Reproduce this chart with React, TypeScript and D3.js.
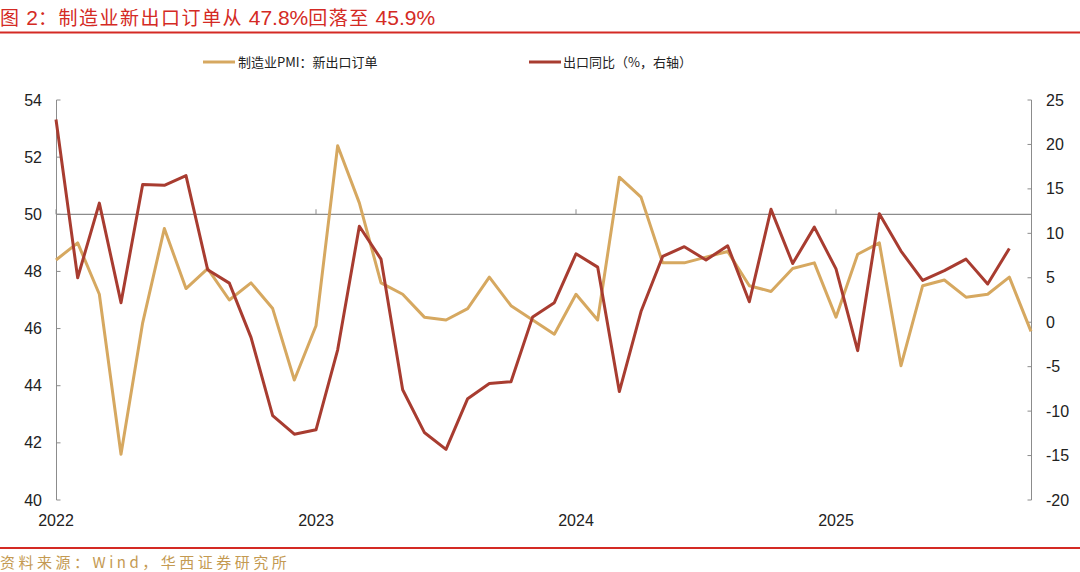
import * as d3 from 'd3';

const years = ['2022', '2023', '2024', '2025'];

// 制造业PMI：新出口订单, 2022-01 .. 2025-10
const pmiExport = [
    48.4, 49.0, 47.2, 41.6, 46.2, 49.5, 47.4, 48.1, 47.0, 47.6, 46.7, 44.2,
    46.1, 52.4, 50.4, 47.6, 47.2, 46.4, 46.3, 46.7, 47.8, 46.8, 46.3, 45.8,
    47.2, 46.3, 51.3, 50.6, 48.3, 48.3, 48.5, 48.7, 47.5, 47.3, 48.1, 48.3,
    46.4, 48.6, 49.0, 44.7, 47.5, 47.7, 47.1, 47.2, 47.8, 45.9,
];

// 出口同比（%，右轴）, 2022-01 .. 2025-09
const exportYoY = [
    22.8, 5.0, 13.4, 2.2, 15.5, 15.4, 16.5, 5.9, 4.4, -1.7, -10.5, -12.6,
    -12.1, -3.1, 10.8, 7.1, -7.6, -12.4, -14.3, -8.6, -6.9, -6.7, 0.6, 2.2,
    7.7, 6.2, -7.8, 1.2, 7.4, 8.5, 7.0, 8.6, 2.3, 12.7, 6.6, 10.7,
    6.0, -3.2, 12.2, 8.0, 4.7, 5.8, 7.1, 4.3, 8.3,
];

const leftTicks = [40, 42, 44, 46, 48, 50, 52, 54];
const rightTicks = [-20, -15, -10, -5, 0, 5, 10, 15, 20, 25];

const W = 1080;
const H = 572;
const GOLD = '#d6a860';
const RED = '#a83c30';
const AXIS = '#8c8c8c';
const NUM_FONT = '"Liberation Sans", Arial, sans-serif';
const CJK_FONT = '"Noto Sans CJK SC", "Liberation Sans", sans-serif';

export default function App() {
    const x = d3.scaleLinear().domain([0, 45]).range([56, 1031]);
    const yL = d3.scaleLinear().domain([40, 54]).range([500, 100]);
    const yR = d3.scaleLinear().domain([-20, 25]).range([500, 100]);

    const pmiLine = d3
        .line<number>()
        .x((_, i) => x(i))
        .y((d) => yL(d));
    const expLine = d3
        .line<number>()
        .x((_, i) => x(i))
        .y((d) => yR(d));

    const baseY = yL(50);

    return (
        <div style={{ position: 'absolute', left: 0, top: 0 }}>
            <svg width={W} height={H} viewBox={`0 0 ${W} ${H}`} style={{ display: 'block', background: '#fff' }}>
                {/* title */}
                <text x={0} y={25} fill="#d42a24" fontFamily={CJK_FONT} fontSize={19} letterSpacing={1.5}>
                    图 <tspan fontFamily={NUM_FONT} fontSize={21} letterSpacing={0}>2</tspan>：制造业新出口订单从{' '}
                    <tspan fontFamily={NUM_FONT} fontSize={21} letterSpacing={0}>47.8%</tspan>回落至{' '}
                    <tspan fontFamily={NUM_FONT} fontSize={21} letterSpacing={0}>45.9%</tspan>
                </text>
                <line x1={0} x2={W} y1={32.5} y2={32.5} stroke="#d42a24" strokeWidth={2} />

                {/* legend */}
                <line x1={203} x2={235} y1={62} y2={62} stroke={GOLD} strokeWidth={3} />
                <text x={238} y={67} fontFamily={CJK_FONT} fontSize={13} fill="#222">
                    制造业PMI：新出口订单
                </text>
                <line x1={529} x2={561} y1={62} y2={62} stroke={RED} strokeWidth={3} />
                <text x={563} y={67} fontFamily={CJK_FONT} fontSize={13} fill="#222">
                    出口同比（%，右轴）
                </text>

                {/* left axis */}
                <line x1={56.5} x2={56.5} y1={yL(54)} y2={yL(40)} stroke={AXIS} strokeWidth={1} />
                {leftTicks.map((t) => (
                    <g key={`l${t}`}>
                        <line x1={56.5} x2={60.5} y1={yL(t)} y2={yL(t)} stroke={AXIS} />
                        <text
                            x={42}
                            y={yL(t)}
                            dy="0.35em"
                            textAnchor="end"
                            fontFamily={NUM_FONT}
                            fontSize={16}
                            fill="#222"
                        >
                            {t}
                        </text>
                    </g>
                ))}

                {/* right axis */}
                <line x1={1031.5} x2={1031.5} y1={yR(25)} y2={yR(-20)} stroke={AXIS} strokeWidth={1} />
                {rightTicks.map((t) => (
                    <g key={`r${t}`}>
                        <line x1={1027.5} x2={1031.5} y1={yR(t)} y2={yR(t)} stroke={AXIS} />
                        <text
                            x={1046}
                            y={yR(t)}
                            dy="0.35em"
                            textAnchor="start"
                            fontFamily={NUM_FONT}
                            fontSize={16}
                            fill="#222"
                        >
                            {t}
                        </text>
                    </g>
                ))}

                {/* category axis at 50 */}
                <line x1={56} x2={1031} y1={baseY} y2={baseY} stroke={AXIS} strokeWidth={1.2} />
                {years.map((yr, i) => (
                    <g key={yr}>
                        <line x1={x(i * 12)} x2={x(i * 12)} y1={baseY} y2={baseY - 5} stroke={AXIS} />
                        <text
                            x={x(i * 12)}
                            y={526}
                            textAnchor="middle"
                            fontFamily={NUM_FONT}
                            fontSize={16}
                            fill="#222"
                        >
                            {yr}
                        </text>
                    </g>
                ))}

                {/* series */}
                <path d={pmiLine(pmiExport) ?? ''} fill="none" stroke={GOLD} strokeWidth={3} strokeLinejoin="round" />
                <path d={expLine(exportYoY) ?? ''} fill="none" stroke={RED} strokeWidth={3} strokeLinejoin="round" />

                {/* footer */}
                <line x1={0} x2={W} y1={548} y2={548} stroke="#d42a24" strokeWidth={2} />
                <text x={0} y={568} fill="#c49a52" fontFamily={CJK_FONT} fontSize={15} letterSpacing={3.5}>
                    资料来源：Wind，华西证券研究所
                </text>
            </svg>
        </div>
    );
}
